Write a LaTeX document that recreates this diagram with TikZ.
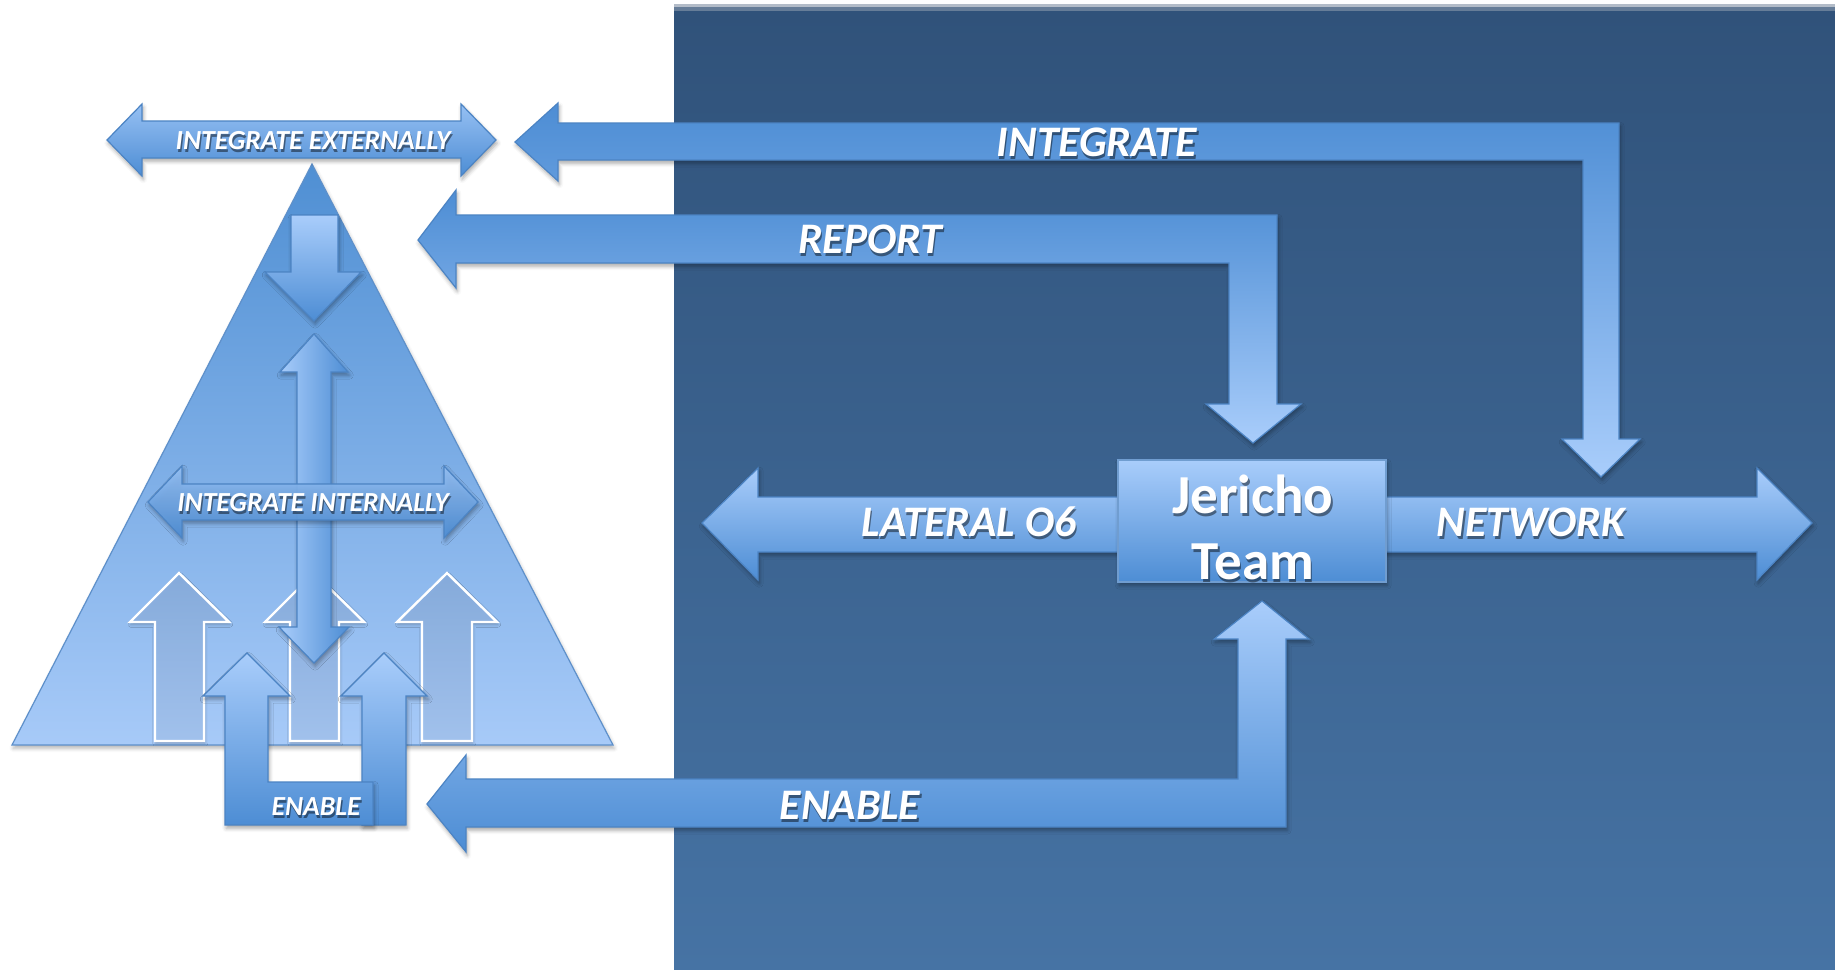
\documentclass[tikz,border=0pt]{standalone}
\usepackage{fontspec}
\setmainfont{Carlito}
\usetikzlibrary{calc,shadows.blur}

\definecolor{panelTop}{HTML}{30527A}
\definecolor{panelBot}{HTML}{4673A4}
\definecolor{stripLight}{HTML}{B3BCC8}
\definecolor{stripMid}{HTML}{667D98}
\definecolor{arrDark}{HTML}{4D8DD4}
\definecolor{arrLight}{HTML}{A9CDFB}
\definecolor{arrEdge}{HTML}{4C84C4}
\definecolor{triTop}{HTML}{4F8FD3}
\definecolor{triBot}{HTML}{A7CAF8}
\definecolor{hollowTop}{HTML}{87ACDD}
\definecolor{hollowBot}{HTML}{A3C4EF}

\tikzset{
  bigarrow/.style={draw=arrEdge, line width=0.6pt, line join=miter,
    blur shadow={shadow xshift=0.6pt, shadow yshift=-1.6pt,
      shadow blur radius=2pt, shadow opacity=35}},
  hollowarrow/.style={draw=white, line width=1.2pt, top color=hollowTop,
    bottom color=hollowBot, fill opacity=0.95,
    blur shadow={shadow xshift=0.4pt, shadow yshift=-1.2pt,
      shadow blur radius=1.5pt, shadow opacity=25}},
  lbl/.style={text=white, inner sep=0pt},
  lblshadow/.style={text=black, opacity=0.45, inner sep=0pt},
}
\newcommand\smallfont{\fontsize{13.8}{16}\selectfont\bfseries\itshape}
\newcommand\bigfont{\fontsize{21.8}{26}\selectfont\bfseries\itshape}
\newcommand\teamfont{\fontsize{27.5}{33}\selectfont\bfseries}
\newcommand\shlabel[4]{%
  \node[lblshadow,font=#3] (#1-shadow) at ($#2+(1.2,3)$) {#4};
  \node[lbl,font=#3] (#1) at #2 {#4};}

\begin{document}
\begin{tikzpicture}[x=0.5pt,y=-0.5pt]
\useasboundingbox (0,0) rectangle (1835,969);

% dark backdrop on the right
\fill[stripLight] (674,4) rectangle (1835,7);
\fill[stripMid] (674,7) rectangle (1835,11);
\shade[top color=panelTop, bottom color=panelBot] (674,11) rectangle (1835,969);

% pyramid
\path[draw=arrEdge!90, line width=0.6pt, top color=triTop, bottom color=triBot,
  blur shadow={shadow xshift=0.6pt, shadow yshift=-1.6pt, shadow blur radius=2pt, shadow opacity=30}]
  (312,164) -- (613,745) -- (12,745) -- cycle;

% INTEGRATE EXTERNALLY double arrow
\path[bigarrow, top color=arrLight!80!arrDark, bottom color=arrDark]
  (107,140) -- (142,104) -- (142,121) -- (461,121) -- (461,104) -- (496,140)
  -- (461,176) -- (461,158) -- (142,158) -- (142,176) -- cycle;

% down arrow under the apex
\path[bigarrow, top color=arrLight, bottom color=arrDark]
  (291,215) -- (338,215) -- (338,272) -- (361,272) -- (314,321)
  -- (265,272) -- (291,272) -- cycle;

% hollow arrows at the base of the pyramid
\path[hollowarrow] (179,573) -- (229,622) -- (204,622) -- (204,741) -- (155,741) -- (155,622) -- (130,622) -- cycle;
\path[hollowarrow] (314,573) -- (364,622) -- (339,622) -- (339,741) -- (290,741) -- (290,622) -- (265,622) -- cycle;
\path[hollowarrow] (447,573) -- (497,622) -- (472,622) -- (472,741) -- (422,741) -- (422,622) -- (397,622) -- cycle;

% vertical double arrow inside the pyramid
\path[bigarrow, left color=arrLight, right color=arrDark]
  (314,334) -- (348,372) -- (331,372) -- (331,627) -- (349,627) -- (314,663)
  -- (279,627) -- (297,627) -- (297,372) -- (280,372) -- cycle;

% INTEGRATE INTERNALLY double arrow
\path[bigarrow, top color=arrLight!80!arrDark, bottom color=arrDark, fill opacity=0.92]
  (148,502) -- (182,466) -- (182,484) -- (444,484) -- (444,466) -- (478,502)
  -- (444,538) -- (444,520) -- (182,520) -- (182,538) -- cycle;

% enable arrows below the pyramid
\path[bigarrow, top color=arrLight, bottom color=arrDark]
  (384,653) -- (427,696) -- (406,696) -- (406,825) -- (362,825) -- (362,696) -- (341,696) -- cycle;
\path[bigarrow, top color=arrLight, bottom color=arrDark]
  (247,653) -- (290,696) -- (268,696) -- (268,782) -- (373,782) -- (373,825)
  -- (225,825) -- (225,696) -- (203,696) -- cycle;

% INTEGRATE
\path[bigarrow, top color=arrDark, bottom color=arrLight]
  (515,142) -- (558,103) -- (558,123) -- (1619,123) -- (1619,439) -- (1640,439)
  -- (1601,477) -- (1562,439) -- (1583,439) -- (1583,160) -- (558,160) -- (558,181) -- cycle;

% REPORT
\path[bigarrow, top color=arrDark, bottom color=arrLight]
  (418,240) -- (456,190) -- (456,215) -- (1277,215) -- (1277,404) -- (1301,404)
  -- (1253,443) -- (1206,404) -- (1229,404) -- (1229,263) -- (456,263) -- (456,288) -- cycle;

% ENABLE
\path[bigarrow, top color=arrLight, bottom color=arrDark]
  (427,804) -- (466,755) -- (466,779) -- (1238,779) -- (1238,639) -- (1214,639)
  -- (1262,601) -- (1309,639) -- (1286,639) -- (1286,827) -- (466,827) -- (466,852) -- cycle;

% LATERAL O6 and NETWORK
\path[bigarrow, top color=arrLight, bottom color=arrDark]
  (702,523) -- (758,468) -- (758,497) -- (1125,497) -- (1125,552) -- (758,552) -- (758,580) -- cycle;
\path[bigarrow, top color=arrLight, bottom color=arrDark]
  (1380,497) -- (1757,497) -- (1757,468) -- (1812,523) -- (1757,580) -- (1757,552) -- (1380,552) -- cycle;

% central team box
\node[draw=arrEdge!80, line width=0.6pt, top color=arrLight, bottom color=arrDark,
  minimum width=134pt, minimum height=61pt, inner sep=0pt,
  blur shadow={shadow xshift=0.6pt, shadow yshift=-1.6pt, shadow blur radius=2pt, shadow opacity=35}]
  (jericho) at (1252,521) {};
\node[lblshadow, font=\teamfont, align=center] (jericho-text-shadow)
  at ($(jericho.center)+(2.2,9)$) {Jericho\\Team};
\node[lbl, font=\teamfont, align=center] (jericho-text)
  at ($(jericho.center)+(1,6)$) {Jericho\\Team};

% labels
\shlabel{ext}{(313,141)}{\smallfont}{INTEGRATE EXTERNALLY}
\shlabel{int}{(313,503)}{\smallfont}{INTEGRATE INTERNALLY}
\shlabel{enable-small}{(316,807)}{\smallfont}{ENABLE}
\shlabel{integrate}{(1097,142)}{\bigfont}{INTEGRATE}
\shlabel{report}{(870,239)}{\bigfont}{REPORT}
\shlabel{lateral}{(969,522)}{\bigfont}{LATERAL O6}
\shlabel{network}{(1531,522)}{\bigfont}{NETWORK}
\shlabel{enable}{(850,805)}{\bigfont}{ENABLE}
\end{tikzpicture}
\end{document}
